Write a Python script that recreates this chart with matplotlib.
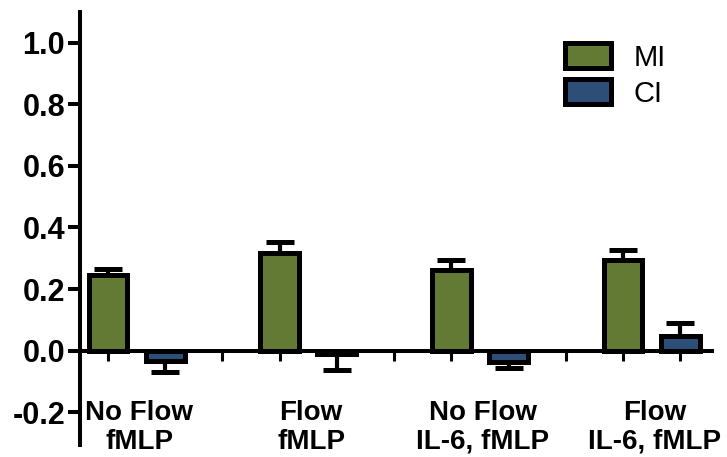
import matplotlib.pyplot as plt
import numpy as np

plt.rcParams['font.family'] = ['Liberation Sans', 'DejaVu Sans']

groups = ['No Flow\nfMLP', 'Flow\nfMLP', 'No Flow\nIL-6, fMLP', 'Flow\nIL-6, fMLP']
mi = [0.245, 0.318, 0.263, 0.293]
mi_err = [0.021, 0.035, 0.031, 0.035]
ci = [-0.033, -0.012, -0.037, 0.049]
ci_err = [0.035, 0.052, 0.019, 0.040]

green = '#627a34'
blue = '#2d4f77'

# slot layout: MI, CI, gap for each group
x_mi = np.arange(len(groups)) * 3
x_ci = x_mi + 1

fig = plt.figure(figsize=(7.27, 4.57), dpi=100)
ax = fig.add_axes([0.110, 0.026, 0.869, 0.948])

bw = 0.68
lw = 3.6
ax.bar(x_mi, mi, bw, color=green, edgecolor='black', linewidth=lw, label='MI', zorder=2)
ax.bar(x_ci, ci, bw, color=blue, edgecolor='black', linewidth=lw, label='CI', zorder=2)

def one_sided(vals, errs):
    lo = [e if v < 0 else 0 for v, e in zip(vals, errs)]
    hi = [e if v >= 0 else 0 for v, e in zip(vals, errs)]
    return [lo, hi]

for xs, vals, errs in [(x_mi, mi, mi_err), (x_ci, ci, ci_err)]:
    ax.errorbar(xs, vals, yerr=one_sided(vals, errs), fmt='none', ecolor='black',
                elinewidth=3.0, capsize=10, capthick=3.6, zorder=3)

ax.set_xlim(-0.49, 10.55)
ax.set_ylim(-0.307, 1.10)
ax.set_yticks([-0.2, 0.0, 0.2, 0.4, 0.6, 0.8, 1.0])
ax.set_yticklabels(['-0.2', '0.0', '0.2', '0.4', '0.6', '0.8', '1.0'],
                   fontsize=22, fontweight='bold')

ax.spines['top'].set_visible(False)
ax.spines['right'].set_visible(False)
ax.spines['left'].set_linewidth(2.9)
ax.spines['bottom'].set_linewidth(2.9)
ax.spines['bottom'].set_position(('data', 0))
ax.spines['bottom'].set_zorder(4)

ax.set_xticks(np.arange(0, 11))
ax.set_xticklabels([])
ax.tick_params(axis='x', direction='out', length=7, width=2.2)
ax.tick_params(axis='y', direction='out', length=8.6, width=2.9, pad=2)

for xc, g in zip(x_mi + 0.55, groups):
    ax.text(xc, -0.162, g, ha='center', va='top', fontsize=20,
            fontweight='bold', linespacing=1.12)

leg = ax.legend(loc='upper left', bbox_to_anchor=(0.749, 0.955), frameon=False,
                fontsize=21, handlelength=1.6, handleheight=0.95,
                labelspacing=0.25, handletextpad=0.75, borderaxespad=0)

plt.savefig('out.png', dpi=100)
